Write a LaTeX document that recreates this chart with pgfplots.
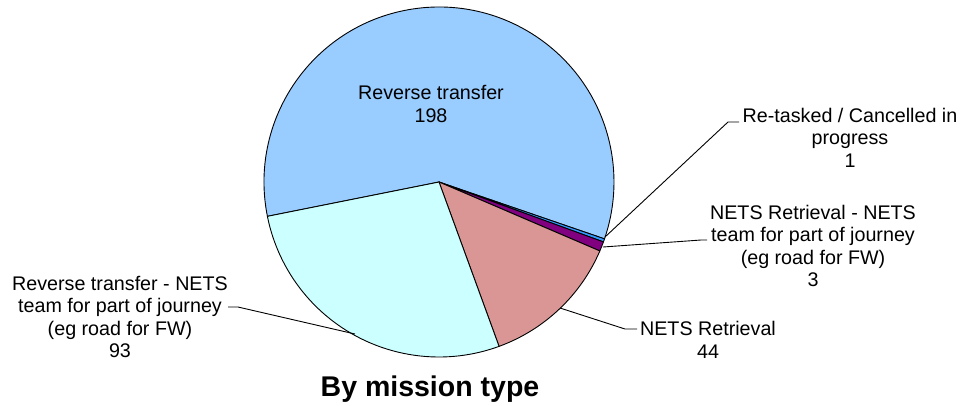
\documentclass[border=0pt]{standalone}
\usepackage{pgfplots}
\usepackage{pgfplotstable}
\pgfplotsset{compat=1.18}
\usepackage{fontspec}
\setmainfont{Liberation Sans}

\definecolor{rtblue}{HTML}{99CCFF}
\definecolor{taskblue}{HTML}{3399FF}
\definecolor{netspurple}{HTML}{800080}
\definecolor{netspink}{HTML}{DA9694}
\definecolor{rtcyan}{HTML}{CCFFFF}

% missions by type, clockwise from "Reverse transfer"
\pgfplotstableread{
value
198
1
3
44
93
}\piedata

\newcommand\getval[2]{\pgfplotstablegetelem{#1}{value}\of\piedata\let#2\pgfplotsretval}

\begin{document}
\begin{tikzpicture}
\getval{0}\va \getval{1}\vb \getval{2}\vc \getval{3}\vd \getval{4}\ve
\pgfmathsetmacro\tot{\va+\vb+\vc+\vd+\ve}
\pgfmathsetmacro\aA{191.3}
\pgfmathsetmacro\aB{\aA-360*(\va/\tot)}
\pgfmathsetmacro\aC{\aB-360*(\vb/\tot)}
\pgfmathsetmacro\aD{\aC-360*(\vc/\tot)}
\pgfmathsetmacro\aE{\aD-360*(\vd/\tot)}
\pgfmathsetmacro\aF{\aE-360*(\ve/\tot)}
\def\lbl{\fontsize{19.7bp}{22.5bp}\selectfont}
\begin{axis}[
  x=1bp, y=1bp, y dir=reverse,
  xmin=0, xmax=964, ymin=0, ymax=405,
  hide axis, clip=false,
]
\coordinate (tl) at (axis cs:0,0);
\coordinate (br) at (axis cs:964,405);
\begin{scope}[draw=black, line width=0.9bp, line join=round]
\filldraw[fill=rtblue] (axis cs:439,182) -- ++(\aA:175bp) arc[start angle=\aA, end angle=\aB, radius=175bp] -- cycle;
\filldraw[fill=taskblue] (axis cs:439,182) -- ++(\aB:175bp) arc[start angle=\aB, end angle=\aC, radius=175bp] -- cycle;
\filldraw[fill=netspurple] (axis cs:439,182) -- ++(\aC:175bp) arc[start angle=\aC, end angle=\aD, radius=175bp] -- cycle;
\filldraw[fill=netspink] (axis cs:439,182) -- ++(\aD:175bp) arc[start angle=\aD, end angle=\aE, radius=175bp] -- cycle;
\filldraw[fill=rtcyan] (axis cs:439,182) -- ++(\aE:175bp) arc[start angle=\aE, end angle=\aF, radius=175bp] -- cycle;
\end{scope}
% leader lines
\draw[line width=0.9bp] (axis cs:605,237) -- (axis cs:728,122) -- (axis cs:739,122);
\draw[line width=0.9bp] (axis cs:603,247) -- (axis cs:701,240) -- (axis cs:707,240);
\draw[line width=0.9bp] (axis cs:560,308) -- (axis cs:625,329) -- (axis cs:637,329);
\draw[line width=0.9bp] (axis cs:355,334) -- (axis cs:238,307) -- (axis cs:228,307);
% labels
\node[align=center, inner sep=0pt, font=\lbl] at (axis cs:431,104) {Reverse transfer\\198};
\node[align=center, inner sep=0pt, font=\lbl] at (axis cs:850,137.5) {Re-tasked / Cancelled in\\progress\\1};
\node[align=center, inner sep=0pt, font=\lbl] at (axis cs:813,246) {NETS Retrieval - NETS\\team for part of journey\\(eg road for FW)\\3};
\node[align=center, inner sep=0pt, font=\lbl] at (axis cs:708,340) {NETS Retrieval\\44};
\node[align=center, inner sep=0pt, font=\lbl] at (axis cs:120,317) {Reverse transfer - NETS\\team for part of journey\\(eg road for FW)\\93};
\node[anchor=base, inner sep=0pt, font=\fontsize{28.5bp}{32bp}\selectfont\bfseries] at (axis cs:430,396) {By mission type};
\end{axis}
\pgfresetboundingbox
\path[use as bounding box] (tl) rectangle (br);
\end{tikzpicture}
\end{document}
